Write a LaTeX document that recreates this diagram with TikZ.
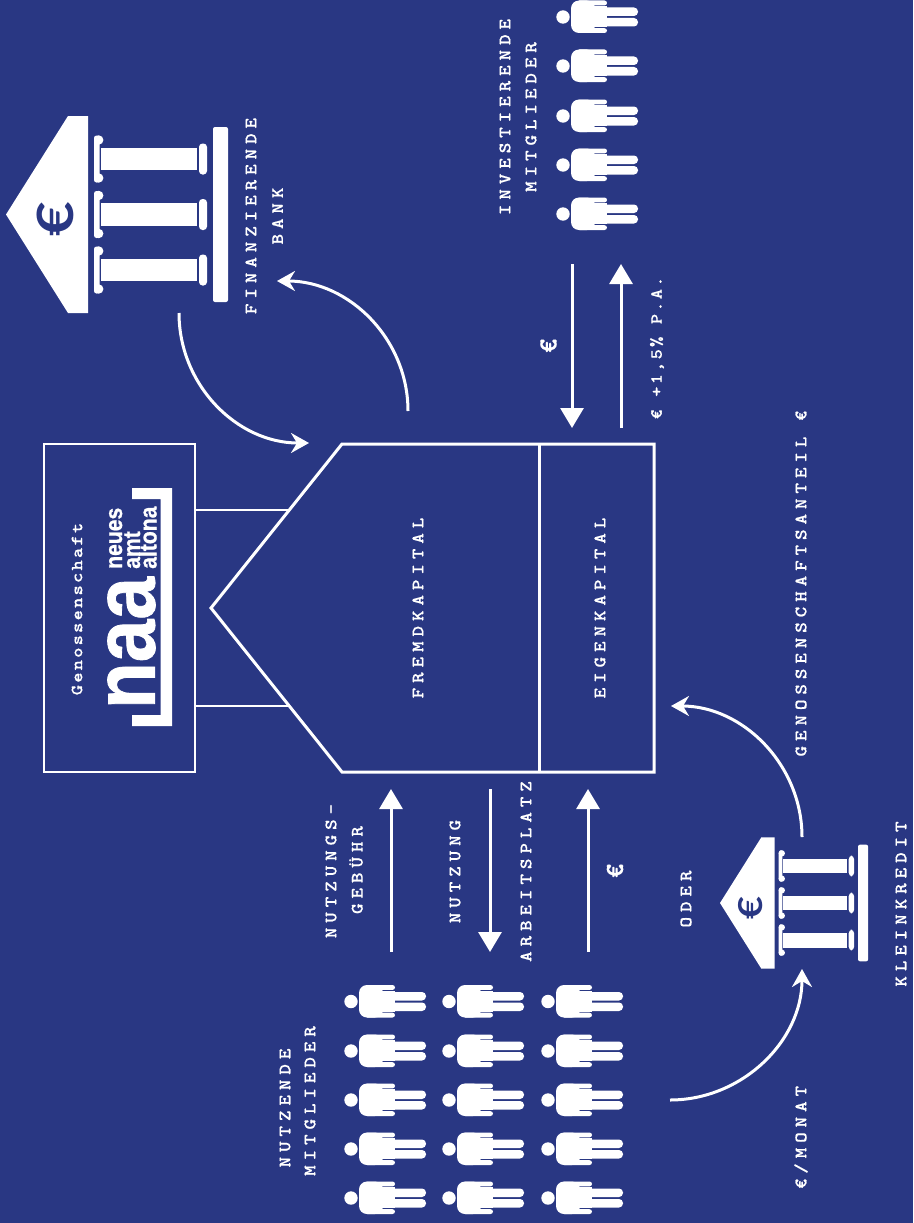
\documentclass[tikz,border=0pt]{standalone}
\usepackage{fontspec}
\usepackage{graphicx}
\usetikzlibrary{arrows.meta, positioning, calc}
\newfontfamily\labelfont[LetterSpace=28, FakeStretch=1.15, FakeBold=0.5]{Latin Modern Mono Light}
\newfontfamily\smalllabelfont[LetterSpace=13, FakeStretch=1.15, FakeBold=0.3]{Latin Modern Mono Light}
\newfontfamily\eurofont{Lato}
\newfontfamily\logofont[FakeBold=1]{Liberation Sans}
\definecolor{naablue}{HTML}{293783}

\tikzset{
  lab/.style={font=\labelfont\bfseries\fontsize{17.5}{20}\selectfont, text=white, rotate=90, inner sep=0pt},
  sublab/.style={lab, font=\smalllabelfont\bfseries\fontsize{17}{20}\selectfont},
  logolab/.style={text=white, rotate=90, inner sep=0pt, anchor=base west, font=\logofont\bfseries\fontsize{24}{24}\selectfont},
  euromark/.style={text=#1, rotate=90, inner sep=0pt},
  flow/.style={-{Triangle[length=20pt, width=23pt]}, white, line width=3pt},
  swing/.style={-{Stealth[length=18pt, width=20pt, inset=6pt]}, white, line width=3pt},
  wall/.style={white, line width=3pt},
  thinwall/.style={white, line width=2pt},
  person/.pic={
    \fill (0,0) circle (6.7pt);
    \fill[rounded corners=8pt] (8,-16.5) rectangle (32,16);
    \fill[rounded corners=2.5pt] (14,-16.5) rectangle (44,-11.6);
    \fill[rounded corners=2.5pt] (14,11.2) rectangle (44,16);
    \fill (19,-10.6) rectangle (43.5,10.2);
    \fill[rounded corners=4pt] (36,-9.5) rectangle (75,-1);
    \fill[rounded corners=4pt] (36,1) rectangle (75,9.5);
  },
  bank/.pic={
    \fill (0,0) -- (62,-98.5) -- (82,-98.5) -- (82,98.5) -- (62,98.5) -- cycle;
    \foreach \colpos in {-55.5,0,55.5} {
      \fill (94.7,\colpos-11.2) rectangle (191,\colpos+11.2);
      \fill[rounded corners=2.5pt] (88,\colpos-23.5) rectangle (93.5,\colpos+23.5);
      \fill (92.7,\colpos-19) circle (4.7pt);
      \fill (92.7,\colpos+19) circle (4.7pt);
      \fill[rounded corners=3.5pt] (193,\colpos-15.5) rectangle (201,\colpos+15.5);
    }
    \fill[rounded corners=2pt] (207,-87.5) rectangle (222,87.5);
  },
}

\begin{document}
\begin{tikzpicture}[x=1pt, y=-1pt]

% Background
\fill[naablue] (0,0) rectangle (913,1223);
\useasboundingbox (0,0) rectangle (913,1223);

% =========== HOUSE ===========
\coordinate (roofleft) at (342,444);
\coordinate (roofright) at (342,772);
\coordinate (apex) at (211,608);
\coordinate (footleft) at (654,444);
\coordinate (footright) at (654,772);
\coordinate (splitleft) at (539,444);
\coordinate (splitright) at (539,772);

\draw[wall, line join=miter] (roofleft) -- (footleft) -- (footright) -- (roofright) -- (apex) -- cycle;
\draw[wall] (splitleft) -- (splitright);
\node[lab] (fremd) at (418,608) {FREMDKAPITAL};
\node[lab] (eigen) at (600,608) {EIGENKAPITAL};

% =========== COOPERATIVE BOX ===========
\draw[wall, line width=2.5pt] (44,444) rectangle (195,772);
\coordinate (boxupper) at (195,510);
\coordinate (boxlower) at (195,706);
\coordinate (roofupper) at (289,510);
\coordinate (rooflower) at (289,706);
\draw[thinwall] (boxupper) -- (roofupper);
\draw[thinwall] (boxlower) -- (rooflower);

\node[sublab] (geno) at (77,609) {Genossenschaft};

% Logo bracket
\fill[white] (132,488) -- (172,488) -- (172,726) -- (132,726) -- (132,715) -- (160.7,715) -- (160.7,499) -- (132,499) -- cycle;
\node[text=white, rotate=90, inner sep=0pt, anchor=center] (naa) at (131.5,643)
  {\resizebox{132pt}{47pt}{\logofont\bfseries naa}};
\node[logolab] (neues) at (122,569) {\scalebox{.88}[1]{neues}};
\node[logolab] (amt) at (140,569) {\scalebox{.88}[1]{amt}};
\node[logolab] (altona) at (156.5,569) {\scalebox{.88}[1]{altona}};

% =========== BANKS ===========
\pic[white] (bigbank) at (6,214.5) {bank};
\node[euromark=naablue, font=\eurofont\bfseries\fontsize{50}{50}\selectfont] (bigeuro) at (55.5,219) {\scalebox{1.2}[1]{€}};
\node[lab] (finanz) at (251,216) {FINANZIERENDE};
\node[lab] (bankname) at (277.5,216) {BANK};

\pic[white, scale=0.667] (smallbank) at (720,903) {bank};
\node[euromark=naablue, font=\eurofont\bfseries\fontsize{33}{33}\selectfont] (smalleuro) at (751,908) {\scalebox{1.2}[1]{€}};
\node[lab] (kleinkredit) at (901,904) {KLEINKREDIT};
\node[lab] (oder) at (686,899) {ODER};

% =========== PEOPLE ===========
% using members
\foreach \colx in {351,449,548} {
  \foreach \rowy in {1001.5,1051,1100,1149,1198} {
    \pic[white] at (\colx,\rowy) {person};
  }
}
\node[lab] (nutzende) at (285,1108) {NUTZENDE};
\node[lab] (nutzmit) at (310,1101) {MITGLIEDER};

% investing members
\foreach \rowy in {17,66,116,165,214} {
  \pic[white] at (563,\rowy) {person};
}
\node[lab] (invest) at (505,117) {INVESTIERENDE};
\node[lab] (invmit) at (531,117) {MITGLIEDER};

% =========== STRAIGHT ARROWS ===========
\coordinate (investout) at (572,264);
\coordinate (investin) at (572,428);
\coordinate (returnout) at (621,428);
\coordinate (returnin) at (621,264);
\draw[flow] (investout) -- (investin);
\draw[flow] (returnout) -- (returnin);
\node[lab, font=\labelfont\bfseries\fontsize{26}{26}\selectfont] (investeuro) at (548.5,346) {€};
\node[sublab] (interest) at (657,348) {€ +1,5\% P.A.};

\coordinate (feeout) at (391,952);
\coordinate (feein) at (391,789);
\coordinate (useout) at (490,789);
\coordinate (usein) at (490,952);
\coordinate (shareout) at (588,952);
\coordinate (sharein) at (588,789);
\draw[flow] (feeout) -- (feein);
\draw[flow] (useout) -- (usein);
\draw[flow] (shareout) -- (sharein);

\node[lab] (fee) at (331,871) {NUTZUNGS-};
\node[lab] (feetwo) at (356,870) {GEBÜHR};
\node[lab] (nutzung) at (455,871.5) {NUTZUNG};
\node[lab] (arbeit) at (526,871.5) {ARBEITSPLATZ};
\node[lab, font=\labelfont\bfseries\fontsize{26}{26}\selectfont] (shareeuro) at (615,871) {€};

% =========== CURVED ARROWS ===========
\coordinate (loanout) at (179,313);
\coordinate (loanin) at (309,443);
\coordinate (paybackout) at (408,411);
\coordinate (paybackin) at (277,281);
\coordinate (anteilout) at (802,837);
\coordinate (anteilin) at (671,706);
\coordinate (monthout) at (670,1100);
\coordinate (monthin) at (802,969);

\draw[swing] (loanout) .. controls +(0,72) and +(-72,0) .. (loanin);
\draw[swing] (paybackout) .. controls +(0,-72) and +(72,0) .. (paybackin);
\draw[swing] (anteilout) .. controls +(0,-72) and +(72,0) .. (anteilin);
\draw[swing] (monthout) .. controls +(72,0) and +(0,72) .. (monthin);

\node[lab] (anteil) at (801,583.5) {GENOSSENSCHAFTSANTEIL €};
\node[lab] (monat) at (801,1137.5) {€/MONAT};

\end{tikzpicture}
\end{document}
